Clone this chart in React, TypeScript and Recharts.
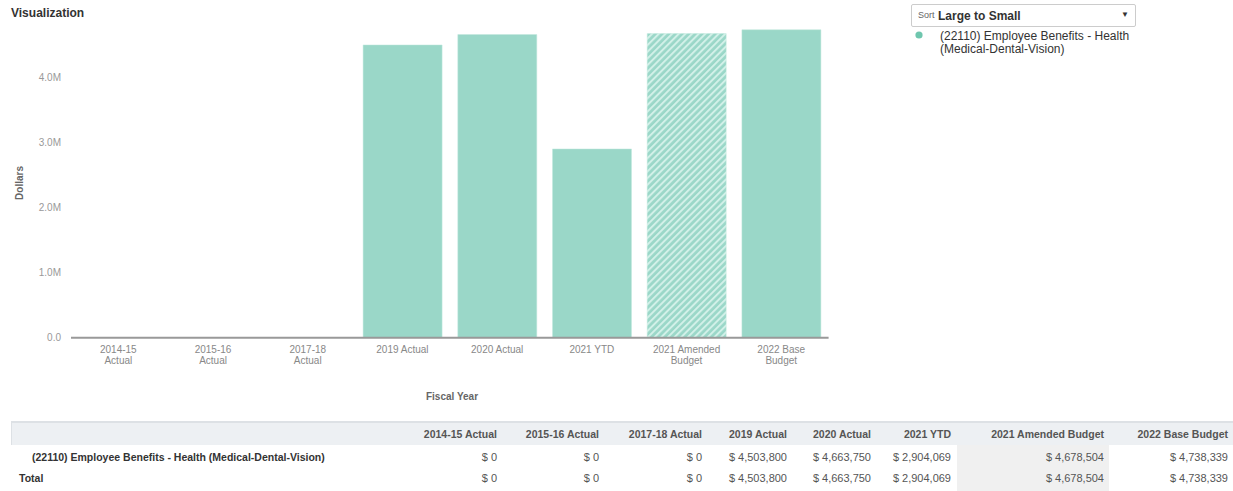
import React from 'react';
import { BarChart, Bar, XAxis, YAxis, Cell, Label } from 'recharts';

const categories = [
  '2014-15 Actual',
  '2015-16 Actual',
  '2017-18 Actual',
  '2019 Actual',
  '2020 Actual',
  '2021 YTD',
  '2021 Amended Budget',
  '2022 Base Budget',
];
const tickLines = [
  ['2014-15', 'Actual'],
  ['2015-16', 'Actual'],
  ['2017-18', 'Actual'],
  ['2019 Actual'],
  ['2020 Actual'],
  ['2021 YTD'],
  ['2021 Amended', 'Budget'],
  ['2022 Base', 'Budget'],
];
const values = [0, 0, 0, 4503800, 4663750, 2904069, 4678504, 4738339];
const yTicks = [0, 1000000, 2000000, 3000000, 4000000];
const hatchedCategory = '2021 Amended Budget';
const seriesName = '(22110) Employee Benefits - Health (Medical-Dental-Vision)';
const legendLines = ['(22110) Employee Benefits - Health', '(Medical-Dental-Vision)'];
const tableRows = [seriesName, 'Total'];
const colRight = [497, 599, 702, 787, 871, 951, 1104, 1228];

const data = categories.map((c, i) => ({ name: c, value: values[i], idx: i }));

const FONT = "'Liberation Sans', Arial, Helvetica, sans-serif";
const BAR = '#9ad7c8';
const HATCH_LIGHT = '#d2f0e8';

const fmtY = (v: number) => (v === 0 ? '0.0' : (v / 1000000).toFixed(1) + 'M');
const fmtMoney = (v: number) => '$ ' + v.toLocaleString('en-US');

const XTick = (props: any) => {
  const { x, y, index } = props;
  const lines = tickLines[index] || [props.payload.value];
  return (
    <text x={x} y={y} textAnchor="middle" fill="#888" fontSize={10} fontFamily={FONT}>
      {lines.map((l, i) => (
        <tspan key={i} x={x} dy={i === 0 ? '0.71em' : 11}>
          {l}
        </tspan>
      ))}
    </text>
  );
};

export default function App() {
  return (
    <div style={{ position: 'absolute', left: 0, top: 0, width: 1233, height: 491, background: '#fff', fontFamily: FONT, overflow: 'hidden' }}>
      <div style={{ position: 'absolute', left: 11, top: 6, fontSize: 12, fontWeight: 'bold', color: '#333' }}>Visualization</div>

      <div style={{ position: 'absolute', left: 0, top: 0 }}>
        <BarChart width={850} height={410} data={data} margin={{ top: 12.7, right: 21.4, left: 0, bottom: 0 }}>
          <defs>
            <pattern id="hatch" patternUnits="userSpaceOnUse" width={4.7} height={4.7} patternTransform="rotate(45)">
              <rect x={0} y={0} width={4.7} height={4.7} fill={BAR} />
              <rect x={0} y={0} width={2} height={4.7} fill={HATCH_LIGHT} />
            </pattern>
          </defs>
          <XAxis
            dataKey="name"
            height={72.3}
            interval={0}
            tickLine={false}
            axisLine={{ stroke: '#999', strokeWidth: 2 }}
            tick={<XTick />}
          >
            <Label
              content={() => (
                <text x={452} y={400} textAnchor="middle" fontSize={10} fontWeight="bold" fill="#666" fontFamily={FONT}>
                  Fiscal Year
                </text>
              )}
            />
          </XAxis>
          <YAxis
            width={71}
            domain={[0, 5000000]}
            ticks={yTicks}
            tickFormatter={fmtY}
            axisLine={false}
            tickLine={false}
            tickMargin={4}
            tick={{ fill: '#999', fontSize: 10, fontFamily: FONT }}
          >
            <Label
              content={() => (
                <text
                  x={23}
                  y={183}
                  textAnchor="middle"
                  fontSize={10}
                  fontWeight="bold"
                  fill="#666"
                  fontFamily={FONT}
                  transform="rotate(-90 23 183)"
                >
                  Dollars
                </text>
              )}
            />
          </YAxis>
          <Bar dataKey="value" barSize={79} isAnimationActive={false} stroke="#c2e9df" strokeWidth={0.5}>
            {data.map((d, i) => (
              <Cell key={i} fill={d.name === hatchedCategory ? 'url(#hatch)' : BAR} />
            ))}
          </Bar>
        </BarChart>
      </div>

      {/* Sort dropdown */}
      <div
        style={{
          position: 'absolute',
          left: 911,
          top: 4,
          width: 225,
          height: 23,
          border: '1px solid #ccc',
          borderRadius: 2,
          boxSizing: 'border-box',
          background: '#fff',
        }}
      >
        <span style={{ position: 'absolute', left: 6, top: 5, fontSize: 9, color: '#666' }}>Sort</span>
        <span style={{ position: 'absolute', left: 26, top: 4, fontSize: 12, fontWeight: 'bold', color: '#333' }}>Large to Small</span>
        <span style={{ position: 'absolute', right: 6, top: 5, fontSize: 8, color: '#333' }}>▼</span>
      </div>

      {/* Legend */}
      <svg style={{ position: 'absolute', left: 914, top: 30 }} width={10} height={10}>
        <circle cx={5} cy={5} r={3.6} fill="#6fc6ae" />
      </svg>
      <div style={{ position: 'absolute', left: 940, top: 30, fontSize: 12, lineHeight: '12.5px', color: '#333' }}>
        {legendLines.map((l, i) => (
          <div key={i}>{l}</div>
        ))}
      </div>

      {/* Table */}
      <div style={{ position: 'absolute', left: 11, top: 421, width: 1222, height: 70 }}>
        <div style={{ position: 'absolute', left: 0, top: 0, width: 1222, height: 24, background: '#edf0f3', borderTop: '2px solid #dde1e5', borderLeft: '1px solid #dde1e5', boxSizing: 'border-box' }} />
        <div style={{ position: 'absolute', left: 946, top: 24, width: 152, height: 46, background: '#f0f0f0' }} />
        {categories.map((c, i) => (
          <div
            key={'h' + i}
            style={{ position: 'absolute', right: 1222 + 11 - colRight[i], top: 7, fontSize: 10.5, fontWeight: 'bold', color: '#555', whiteSpace: 'nowrap' }}
          >
            {c}
          </div>
        ))}
        {tableRows.map((r, ri) => (
          <React.Fragment key={'r' + ri}>
            <div
              style={{
                position: 'absolute',
                left: ri === 0 ? 21 : 8,
                top: 30 + ri * 21,
                fontSize: 10.5,
                fontWeight: 'bold',
                color: '#333',
                whiteSpace: 'nowrap',
              }}
            >
              {r}
            </div>
            {values.map((v, i) => (
              <div
                key={'v' + ri + '-' + i}
                style={{ position: 'absolute', right: 1222 + 11 - colRight[i], top: 30 + ri * 21, fontSize: 11, color: '#555', whiteSpace: 'nowrap' }}
              >
                {fmtMoney(v)}
              </div>
            ))}
          </React.Fragment>
        ))}
      </div>
    </div>
  );
}
